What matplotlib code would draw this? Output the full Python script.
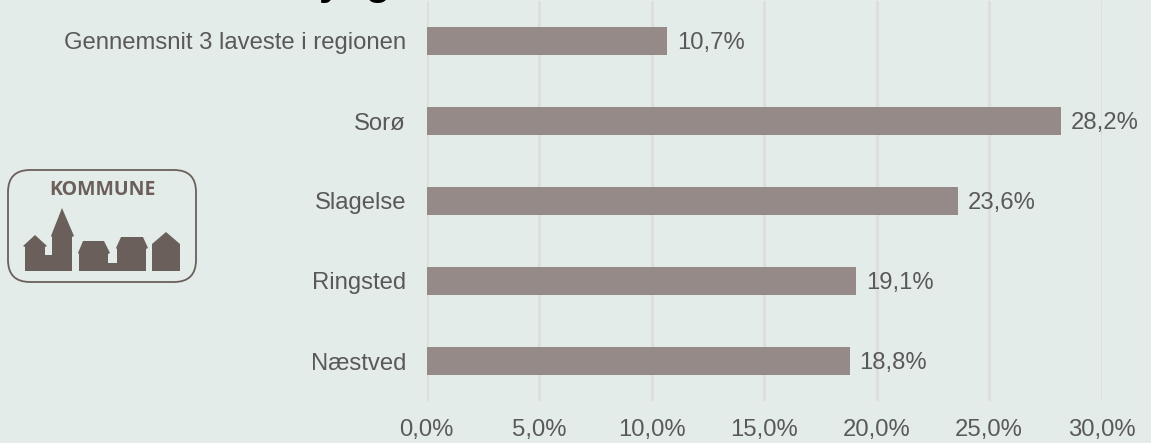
import matplotlib
matplotlib.use("Agg")
import matplotlib.pyplot as plt
from matplotlib.patches import FancyBboxPatch, Polygon

plt.rcParams['font.family'] = ['Liberation Sans', 'DejaVu Sans']

W, H = 1151, 443
BG = "#e3ecE8"
BAR = "#968a88"
GRID = "#dddedc"
TXT = "#595959"
LOGO = "#6b5f5c"
FS = 17.2

categories = ["Næstved", "Ringsted", "Slagelse", "Sorø", "Gennemsnit 3 laveste i regionen"]
values = [18.8, 19.1, 23.6, 28.2, 10.7]
value_labels = ["18,8%", "19,1%", "23,6%", "28,2%", "10,7%"]
x_ticks = [0, 5, 10, 15, 20, 25, 30]
x_tick_labels = ["0,0%", "5,0%", "10,0%", "15,0%", "20,0%", "25,0%", "30,0%"]

fig = plt.figure(figsize=(W / 100, H / 100), dpi=100, facecolor=BG)

# Akser i pixel: venstre 426.5, hoejre 1101.5, top 1, bund 401
ax = fig.add_axes([426.5 / W, 1 - 401 / H, 675 / W, 400 / H], facecolor=BG)
ax.barh(categories, values, height=0.36, color=BAR, zorder=3)
ax.set_xlim(0, 30)
ax.set_ylim(-0.5, 4.5)
ax.set_xticks(x_ticks)
ax.set_xticklabels(x_tick_labels, fontsize=FS, color=TXT)
ax.tick_params(axis='x', length=0, pad=13)
ax.tick_params(axis='y', length=0, pad=14.7, labelsize=FS, labelcolor=TXT)
ax.grid(True, axis='x', color=GRID, linewidth=1.9, zorder=0)
ax.set_axisbelow(True)
for s in ax.spines.values():
    s.set_visible(False)
for i in range(len(values)):
    ax.annotate(value_labels[i], (values[i], i), xytext=(10, -1.5), textcoords='offset pixels',
                va='center', ha='left', fontsize=FS, color=TXT, zorder=4)

# Overlay i pixelkoordinater til titel og logo
ov = fig.add_axes([0, 0, 1, 1], facecolor='none')
ov.set_xlim(0, W)
ov.set_ylim(H, 0)
ov.axis('off')

# Titlen er beskaaret af billedets top, kun underlaengder ses
ov.text(319, -6, "y  g", fontsize=30, fontweight='bold', color='black', va='baseline', ha='left')

# Logo
ov.add_patch(FancyBboxPatch((8, 170), 188, 112, boxstyle="round,pad=0,rounding_size=22",
                            facecolor='none', edgecolor=LOGO, linewidth=1.3))
ov.text(102, 190, "KOMMUNE", fontsize=14, fontweight='bold', color=LOGO,
        ha='center', va='center', family=['Open Sans', 'DejaVu Sans'])

houses = [
    [(25, 271), (25, 247), (23, 246), (35, 235), (47, 246), (45, 247), (45, 255), (52, 255),
     (52, 237), (51, 236), (62, 208), (74, 236), (72, 237), (72, 271)],
    [(79, 271), (79, 254), (78, 253), (83, 241), (104, 241), (110, 253), (108, 254), (108, 263),
     (117, 263), (117, 249), (116, 248), (121, 237), (143, 237), (148, 248), (146, 249), (146, 271)],
    [(152, 271), (152, 244), (166, 232), (180, 244), (180, 271)],
]
for h in houses:
    ov.add_patch(Polygon(h, closed=True, facecolor=LOGO, edgecolor='none'))

fig.savefig("out.png", dpi=100, facecolor=BG)
